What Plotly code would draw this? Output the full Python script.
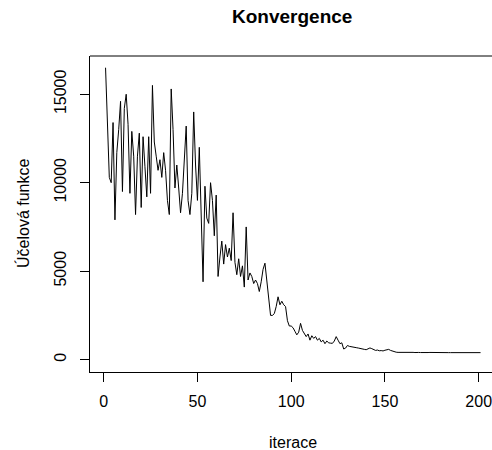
import plotly.graph_objects as go

iterations = list(range(1, 202))
objective = [
    16500, 12800, 10300, 10000, 13400, 7900, 11700, 13000, 14600, 9500,
    14200, 15000, 13300, 9400, 12900, 11500, 8200, 11500, 12800, 8600,
    12600, 10900, 9200, 12600, 9400, 15500, 12300, 11500, 10700, 11300,
    10300, 11700, 10700, 9000, 8200, 15300, 13000, 9700, 11000, 9700,
    8300, 9400, 11000, 13200, 9000, 8200, 9400, 14000, 11000, 9000,
    12000, 8300, 4400, 9800, 8000, 7700, 10000, 9000, 7000, 9300,
    4700, 5800, 6700, 5400, 6500, 5800, 6300, 5600, 8300, 5500,
    4800, 5700, 4700, 5300, 4100, 7500, 4500, 4900, 4700, 4300,
    4500, 4300, 3850, 4400, 5100, 5450, 4500, 3400, 2500, 2500,
    2600, 3000, 3550, 3100, 3300, 3100, 3000, 2200, 1900, 1900,
    1800, 1600, 1400, 1550, 2050, 1650, 1450, 1300, 1450, 1100,
    1350, 1200, 1300, 1100, 1200, 1000, 1100, 900, 1050, 950,
    930, 920, 1050, 1300, 1100, 900, 950, 600, 650, 800,
    750, 720, 700, 690, 670, 650, 640, 600, 580, 560,
    600, 660, 620, 560, 520, 540, 500, 510, 490, 530,
    560, 580, 520, 480, 430, 420, 410, 415, 405, 420,
    410, 400, 415, 405, 410, 400, 420, 405, 400, 410,
    400, 415, 400, 405, 400, 400, 395, 395, 395, 395,
    395, 395, 395, 395, 395, 395, 395, 395, 395, 395,
    395, 395, 395, 395, 395, 395, 395, 395, 395, 395,
    395,
]
x_ticks = [0, 50, 100, 150, 200]
y_ticks = [0, 5000, 10000, 15000]

title_text = "Konvergence"
x_title = "iterace"
y_title = "Účelová funkce"

FONT = "Liberation Sans, Arial, sans-serif"

fig = go.Figure()
fig.add_trace(go.Scatter(
    x=iterations, y=objective, mode="lines",
    line=dict(color="black", width=1), showlegend=False,
))

fig.update_layout(
    width=492, height=450,
    margin=dict(l=90, r=0, t=56, b=78, autoexpand=False),
    paper_bgcolor="white", plot_bgcolor="white",
    font=dict(family=FONT, size=16, color="black"),
    xaxis=dict(
        range=[-7.3, 207.1], tickvals=x_ticks, ticktext=[str(v) for v in x_ticks],
        showgrid=False, zeroline=False, showline=True, linecolor="black", linewidth=1,
        ticks="outside", ticklen=9, tickcolor="black", tickwidth=1,
        ticklabelstandoff=6, automargin=False, ticklabeloverflow="allow",
    ),
    yaxis=dict(
        range=[-700, 17162], tickvals=y_ticks, ticktext=[str(v) for v in y_ticks],
        showgrid=False, zeroline=False, showline=True, linecolor="black", linewidth=1,
        ticks="outside", ticklen=9, tickcolor="black", tickwidth=1,
        tickangle=-90, ticklabelstandoff=8, automargin=False, ticklabeloverflow="allow",
    ),
    shapes=[dict(type="line", xref="paper", yref="paper", x0=0, x1=1, y0=1, y1=1,
                 line=dict(color="black", width=1))],
    annotations=[
        dict(text=f"<b>{title_text}</b>", xref="paper", yref="paper",
             x=(292 - 90) / 402, y=(372 - 16) / 316, xanchor="center", yanchor="middle",
             showarrow=False, font=dict(size=19, family=FONT, color="black")),
        dict(text=x_title, xref="paper", yref="paper",
             x=(293 - 90) / 402, y=(372 - 442) / 316, xanchor="center", yanchor="middle",
             showarrow=False, font=dict(size=16, family=FONT, color="black")),
        dict(text=y_title, xref="paper", yref="paper",
             x=(23 - 90) / 402, y=(372 - 214) / 316, xanchor="center", yanchor="middle",
             textangle=-90, showarrow=False, font=dict(size=16, family=FONT, color="black")),
    ],
)

fig.write_html("out.html", config={"displayModeBar": False},
               post_script="document.body.style.margin='0';")
